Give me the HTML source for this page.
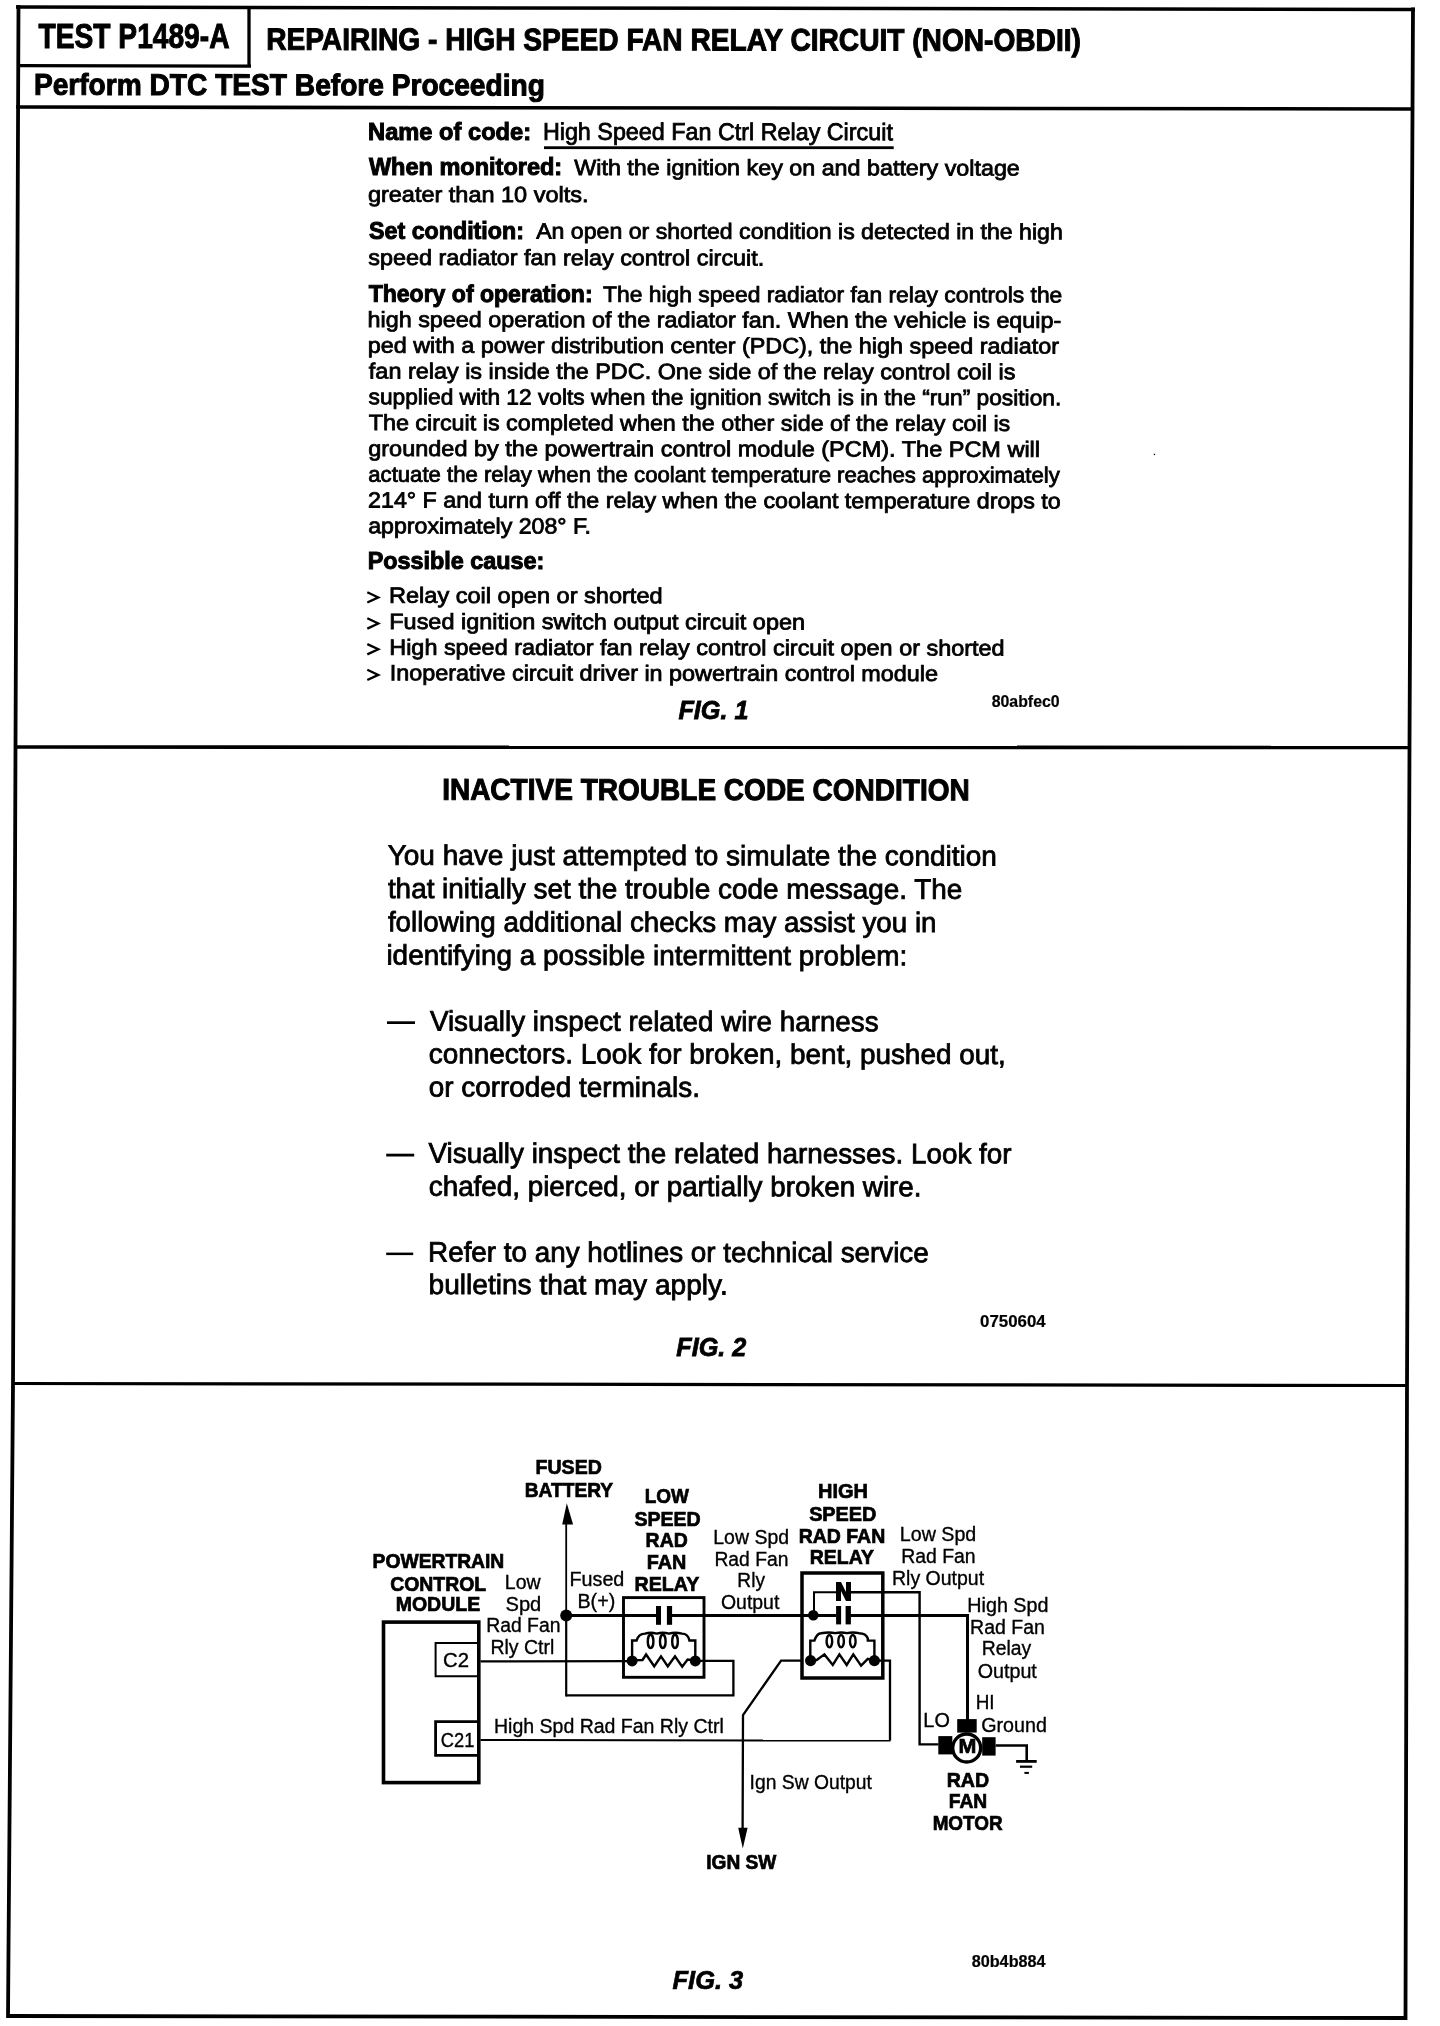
<!DOCTYPE html>
<html><head><meta charset="utf-8"><title>TEST P1489-A</title>
<style>
html,body{margin:0;padding:0;background:#fff;}
body{width:1440px;height:2026px;overflow:hidden;}
svg{display:block;will-change:transform;}
text{font-family:"Liberation Sans",sans-serif;fill:#000;stroke:#000;stroke-width:0.8px;}
.b{font-weight:bold;stroke-width:1px;}
.bi{font-weight:bold;font-style:italic;}
.i{font-style:italic;}
line,polyline,path,rect,circle,ellipse{stroke:#000;}
.f{fill:#000;stroke:none;}
</style></head>
<body><svg width="1440" height="2026" viewBox="0 0 1440 2026">
<rect x="0" y="0" width="1440" height="2026" style="fill:#fff;stroke:none"/>
<polyline points="18.5,5 15.5,747 13,1384 8.5,1950 8,2018" stroke-width="3.8" fill="none"/>
<polyline points="1413,7.5 1409.5,747.5 1407,1385.5 1405.5,2020" stroke-width="3.8" fill="none"/>
<line x1="16" y1="7" x2="1415" y2="9.5" stroke-width="3.5"/>
<line x1="17" y1="65.6" x2="251" y2="66.2" stroke-width="3.3"/>
<line x1="249" y1="7.5" x2="249" y2="66" stroke-width="3.3"/>
<line x1="16" y1="107" x2="1413" y2="109" stroke-width="3.6"/>
<line x1="15" y1="747" x2="1411" y2="747.5" stroke-width="3.6"/>
<line x1="12" y1="1383.5" x2="1408" y2="1385.5" stroke-width="3.2"/>
<line x1="7" y1="2016" x2="1407" y2="2018" stroke-width="3.8"/>
<rect x="1153.8" y="453.8" width="1.3" height="1.3" class="f"/>
<text class="b" x="38.58" y="47.60" font-size="35" textLength="190.91" lengthAdjust="spacingAndGlyphs">TEST P1489-A</text>
<text class="b" x="266.13" y="49.80" font-size="31" textLength="814.75" lengthAdjust="spacingAndGlyphs" transform="rotate(0.075 268.0 49.8)">REPAIRING - HIGH SPEED FAN RELAY CIRCUIT (NON-OBDII)</text>
<text class="b" x="33.92" y="94.80" font-size="30" textLength="510.96" lengthAdjust="spacingAndGlyphs" transform="rotate(0.075 35.8 94.8)">Perform DTC TEST Before Proceeding</text>
<text class="b" x="368.12" y="139.50" font-size="24" textLength="162.96" lengthAdjust="spacingAndGlyphs">Name of code:</text>
<text class="r" x="542.89" y="139.70" font-size="24" textLength="349.98" lengthAdjust="spacingAndGlyphs" transform="rotate(0.075 544.8 139.7)">High Speed Fan Ctrl Relay Circuit</text>
<rect x="544" y="146.3" width="349.7" height="2.8" class="f"/>
<text class="b" x="368.88" y="174.90" font-size="24" textLength="193.28" lengthAdjust="spacingAndGlyphs">When monitored:</text>
<text class="r" x="574.30" y="174.90" font-size="22" textLength="445.54" lengthAdjust="spacingAndGlyphs" transform="rotate(0.075 574.4 174.9)">With the ignition key on and battery voltage</text>
<text class="r" x="367.91" y="201.80" font-size="22" textLength="220.53" lengthAdjust="spacingAndGlyphs" transform="rotate(0.075 368.9 201.8)">greater than 10 volts.</text>
<text class="b" x="369.03" y="238.50" font-size="24" textLength="154.90" lengthAdjust="spacingAndGlyphs">Set condition:</text>
<text class="r" x="536.20" y="238.50" font-size="22" textLength="526.60" lengthAdjust="spacingAndGlyphs" transform="rotate(0.075 536.2 238.5)">An open or shorted condition is detected in the high</text>
<text class="r" x="368.35" y="264.90" font-size="22" textLength="395.88" lengthAdjust="spacingAndGlyphs" transform="rotate(0.075 369.0 264.9)">speed radiator fan relay control circuit.</text>
<text class="b" x="368.64" y="301.80" font-size="24" textLength="223.97" lengthAdjust="spacingAndGlyphs" transform="rotate(0.075 368.9 301.8)">Theory of operation:</text>
<text class="r" x="603.09" y="301.80" font-size="22" textLength="459.23" lengthAdjust="spacingAndGlyphs" transform="rotate(0.075 603.6 301.8)">The high speed radiator fan relay controls the</text>
<text class="r" x="367.60" y="326.90" font-size="22" textLength="693.63" lengthAdjust="spacingAndGlyphs" transform="rotate(0.075 369.2 326.9)">high speed operation of the radiator fan.  When the vehicle is equip-</text>
<text class="r" x="367.69" y="352.70" font-size="22" textLength="691.29" lengthAdjust="spacingAndGlyphs" transform="rotate(0.075 369.2 352.7)">ped with a power distribution center (PDC), the high speed radiator</text>
<text class="r" x="368.87" y="378.50" font-size="22" textLength="646.57" lengthAdjust="spacingAndGlyphs" transform="rotate(0.075 369.2 378.5)">fan relay is inside the PDC.  One side of the relay control coil is</text>
<text class="r" x="368.57" y="404.30" font-size="22" textLength="692.71" lengthAdjust="spacingAndGlyphs" transform="rotate(0.075 369.2 404.3)">supplied with 12 volts when the ignition switch is in the “run” position.</text>
<text class="r" x="368.68" y="430.10" font-size="22" textLength="641.57" lengthAdjust="spacingAndGlyphs" transform="rotate(0.075 369.2 430.1)">The circuit is completed when the other side of the relay coil is</text>
<text class="r" x="368.22" y="455.90" font-size="22" textLength="671.83" lengthAdjust="spacingAndGlyphs" transform="rotate(0.075 369.2 455.9)">grounded by the powertrain control module (PCM).  The PCM will</text>
<text class="r" x="368.26" y="481.70" font-size="22" textLength="691.58" lengthAdjust="spacingAndGlyphs" transform="rotate(0.075 369.2 481.7)">actuate the relay when the coolant temperature reaches approximately</text>
<text class="r" x="368.03" y="507.50" font-size="22" textLength="692.74" lengthAdjust="spacingAndGlyphs" transform="rotate(0.075 369.2 507.5)">214° F and turn off the relay when the coolant temperature drops to</text>
<text class="r" x="368.23" y="533.30" font-size="22" textLength="222.76" lengthAdjust="spacingAndGlyphs" transform="rotate(0.075 369.2 533.3)">approximately 208° F.</text>
<text class="b" x="367.64" y="569.00" font-size="24" textLength="176.71" lengthAdjust="spacingAndGlyphs">Possible cause:</text>
<text class="r" x="388.97" y="602.80" font-size="22" textLength="273.65" lengthAdjust="spacingAndGlyphs" transform="rotate(0.075 390.9 602.8)">Relay coil open or shorted</text>
<polyline points="367.3,592.1999999999999 378.3,597.4 367.3,602.5" stroke-width="2.3" fill="none"/>
<text class="r" x="389.28" y="628.90" font-size="22" textLength="415.75" lengthAdjust="spacingAndGlyphs" transform="rotate(0.075 391.2 628.9)">Fused ignition switch output circuit open</text>
<polyline points="367.3,618.3 378.3,623.5 367.3,628.6" stroke-width="2.3" fill="none"/>
<text class="r" x="389.28" y="654.70" font-size="22" textLength="615.23" lengthAdjust="spacingAndGlyphs" transform="rotate(0.075 391.2 654.7)">High speed radiator fan relay control circuit open or shorted</text>
<polyline points="367.3,644.1 378.3,649.3000000000001 367.3,654.4000000000001" stroke-width="2.3" fill="none"/>
<text class="r" x="389.84" y="680.30" font-size="22" textLength="548.20" lengthAdjust="spacingAndGlyphs" transform="rotate(0.075 392.0 680.3)">Inoperative circuit driver in powertrain control module</text>
<polyline points="367.3,669.6999999999999 378.3,674.9 367.3,680.0" stroke-width="2.3" fill="none"/>
<text class="bi" x="678.46" y="718.90" font-size="26" textLength="70.00" lengthAdjust="spacingAndGlyphs">FIG. 1</text>
<text class="b" x="991.70" y="707.20" font-size="16" textLength="67.95" lengthAdjust="spacingAndGlyphs" style="stroke-width:0.2px">80abfec0</text>
<text class="b" x="442.13" y="799.70" font-size="30" textLength="527.66" lengthAdjust="spacingAndGlyphs" transform="rotate(0.075 444.0 799.7)">INACTIVE TROUBLE CODE CONDITION</text>
<text class="r" x="387.69" y="864.70" font-size="28" textLength="609.22" lengthAdjust="spacingAndGlyphs" transform="rotate(0.075 388.3 864.7)">You have just attempted to simulate the condition</text>
<text class="r" x="387.88" y="898.00" font-size="28" textLength="574.46" lengthAdjust="spacingAndGlyphs" transform="rotate(0.075 388.3 898.0)">that initially set the trouble code message. The</text>
<text class="r" x="387.91" y="931.30" font-size="28" textLength="548.59" lengthAdjust="spacingAndGlyphs" transform="rotate(0.075 388.3 931.3)">following additional checks may assist you in</text>
<text class="r" x="386.43" y="964.60" font-size="28" textLength="520.91" lengthAdjust="spacingAndGlyphs" transform="rotate(0.075 388.3 964.6)">identifying a possible intermittent problem:</text>
<rect x="387" y="1021.3" width="28" height="2.7" class="f"/>
<text class="r" x="429.88" y="1030.60" font-size="28" textLength="448.72" lengthAdjust="spacingAndGlyphs" transform="rotate(0.075 430.0 1030.6)">Visually inspect related wire harness</text>
<text class="r" x="428.81" y="1063.20" font-size="28" textLength="576.89" lengthAdjust="spacingAndGlyphs" transform="rotate(0.075 430.0 1063.2)">connectors. Look for broken, bent, pushed out,</text>
<text class="r" x="428.83" y="1096.50" font-size="28" textLength="271.12" lengthAdjust="spacingAndGlyphs" transform="rotate(0.075 430.0 1096.5)">or corroded terminals.</text>
<rect x="386.2" y="1153.7" width="28" height="2.8" class="f"/>
<text class="r" x="428.48" y="1162.60" font-size="28" textLength="583.08" lengthAdjust="spacingAndGlyphs" transform="rotate(0.075 428.6 1162.6)">Visually inspect the related harnesses. Look for</text>
<text class="r" x="428.82" y="1195.70" font-size="28" textLength="492.72" lengthAdjust="spacingAndGlyphs" transform="rotate(0.075 430.0 1195.7)">chafed, pierced, or partially broken wire.</text>
<rect x="386.2" y="1252.6" width="27" height="2.5" class="f"/>
<text class="r" x="428.12" y="1261.50" font-size="28" textLength="500.62" lengthAdjust="spacingAndGlyphs" transform="rotate(0.075 430.4 1261.5)">Refer to any hotlines or technical service</text>
<text class="r" x="428.60" y="1294.00" font-size="28" textLength="299.24" lengthAdjust="spacingAndGlyphs" transform="rotate(0.075 430.4 1294.0)">bulletins that may apply.</text>
<text class="b" x="980.13" y="1327.20" font-size="16" textLength="65.56" lengthAdjust="spacingAndGlyphs" style="stroke-width:0.2px">0750604</text>
<text class="bi" x="676.26" y="1355.60" font-size="26" textLength="70.00" lengthAdjust="spacingAndGlyphs">FIG. 2</text>
<text class="b" x="535.59" y="1474.00" font-size="20" textLength="66.23" lengthAdjust="spacingAndGlyphs" style="stroke-width:0.7px">FUSED</text>
<text class="b" x="524.75" y="1496.60" font-size="20" textLength="88.35" lengthAdjust="spacingAndGlyphs" style="stroke-width:0.7px">BATTERY</text>
<text class="b" x="644.73" y="1502.80" font-size="20" textLength="44.19" lengthAdjust="spacingAndGlyphs" style="stroke-width:0.7px">LOW</text>
<text class="b" x="634.44" y="1525.60" font-size="20" textLength="66.28" lengthAdjust="spacingAndGlyphs" style="stroke-width:0.7px">SPEED</text>
<text class="b" x="645.60" y="1546.90" font-size="20" textLength="42.12" lengthAdjust="spacingAndGlyphs" style="stroke-width:0.7px">RAD</text>
<text class="b" x="646.81" y="1568.90" font-size="20" textLength="39.59" lengthAdjust="spacingAndGlyphs" style="stroke-width:0.7px">FAN</text>
<text class="b" x="634.62" y="1590.80" font-size="20" textLength="64.68" lengthAdjust="spacingAndGlyphs" style="stroke-width:0.7px">RELAY</text>
<text class="b" x="372.61" y="1568.30" font-size="20" textLength="131.69" lengthAdjust="spacingAndGlyphs" style="stroke-width:0.7px">POWERTRAIN</text>
<text class="b" x="390.20" y="1590.60" font-size="20" textLength="95.99" lengthAdjust="spacingAndGlyphs" style="stroke-width:0.7px">CONTROL</text>
<text class="b" x="395.70" y="1611.40" font-size="20" textLength="84.47" lengthAdjust="spacingAndGlyphs" style="stroke-width:0.7px">MODULE</text>
<text class="r" x="504.80" y="1589.40" font-size="20" textLength="35.75" lengthAdjust="spacingAndGlyphs" style="stroke-width:0.35px">Low</text>
<text class="r" x="505.49" y="1610.50" font-size="20" textLength="35.81" lengthAdjust="spacingAndGlyphs" style="stroke-width:0.35px">Spd</text>
<text class="r" x="486.21" y="1632.20" font-size="20" textLength="74.25" lengthAdjust="spacingAndGlyphs" style="stroke-width:0.35px">Rad Fan</text>
<text class="r" x="490.40" y="1654.40" font-size="20" textLength="63.90" lengthAdjust="spacingAndGlyphs" style="stroke-width:0.35px">Rly Ctrl</text>
<text class="r" x="569.48" y="1586.40" font-size="20" textLength="54.89" lengthAdjust="spacingAndGlyphs" style="stroke-width:0.35px">Fused</text>
<text class="r" x="577.49" y="1608.10" font-size="20" textLength="37.74" lengthAdjust="spacingAndGlyphs" style="stroke-width:0.35px">B(+)</text>
<text class="r" x="443.07" y="1667.20" font-size="20" textLength="25.95" lengthAdjust="spacingAndGlyphs" style="stroke-width:0.35px">C2</text>
<text class="r" x="440.87" y="1747.40" font-size="20" textLength="33.63" lengthAdjust="spacingAndGlyphs" style="stroke-width:0.35px">C21</text>
<text class="r" x="494.00" y="1733.00" font-size="20" textLength="229.80" lengthAdjust="spacingAndGlyphs" style="stroke-width:0.35px">High Spd Rad Fan Rly Ctrl</text>
<text class="b" x="818.06" y="1498.30" font-size="20" textLength="49.98" lengthAdjust="spacingAndGlyphs" style="stroke-width:0.7px">HIGH</text>
<text class="b" x="809.13" y="1520.60" font-size="20" textLength="67.31" lengthAdjust="spacingAndGlyphs" style="stroke-width:0.7px">SPEED</text>
<text class="b" x="798.71" y="1542.80" font-size="20" textLength="86.48" lengthAdjust="spacingAndGlyphs" style="stroke-width:0.7px">RAD FAN</text>
<text class="b" x="809.73" y="1564.40" font-size="20" textLength="64.17" lengthAdjust="spacingAndGlyphs" style="stroke-width:0.7px">RELAY</text>
<text class="r" x="713.30" y="1544.00" font-size="20" textLength="75.75" lengthAdjust="spacingAndGlyphs" style="stroke-width:0.35px">Low Spd</text>
<text class="r" x="714.42" y="1565.80" font-size="20" textLength="74.04" lengthAdjust="spacingAndGlyphs" style="stroke-width:0.35px">Rad Fan</text>
<text class="r" x="737.33" y="1587.00" font-size="20" textLength="27.61" lengthAdjust="spacingAndGlyphs" style="stroke-width:0.35px">Rly</text>
<text class="r" x="720.98" y="1608.90" font-size="20" textLength="58.36" lengthAdjust="spacingAndGlyphs" style="stroke-width:0.35px">Output</text>
<text class="r" x="899.79" y="1541.40" font-size="20" textLength="76.48" lengthAdjust="spacingAndGlyphs" style="stroke-width:0.35px">Low Spd</text>
<text class="r" x="901.21" y="1563.00" font-size="20" textLength="74.45" lengthAdjust="spacingAndGlyphs" style="stroke-width:0.35px">Rad Fan</text>
<text class="r" x="892.00" y="1585.00" font-size="20" textLength="92.04" lengthAdjust="spacingAndGlyphs" style="stroke-width:0.35px">Rly Output</text>
<text class="r" x="967.28" y="1611.70" font-size="20" textLength="81.19" lengthAdjust="spacingAndGlyphs" style="stroke-width:0.35px">High Spd</text>
<text class="r" x="970.10" y="1633.60" font-size="20" textLength="74.76" lengthAdjust="spacingAndGlyphs" style="stroke-width:0.35px">Rad Fan</text>
<text class="r" x="981.71" y="1655.30" font-size="20" textLength="49.42" lengthAdjust="spacingAndGlyphs" style="stroke-width:0.35px">Relay</text>
<text class="r" x="977.67" y="1678.00" font-size="20" textLength="59.18" lengthAdjust="spacingAndGlyphs" style="stroke-width:0.35px">Output</text>
<text class="r" x="975.65" y="1708.70" font-size="20" textLength="18.89" lengthAdjust="spacingAndGlyphs" style="stroke-width:0.35px">HI</text>
<text class="r" x="981.21" y="1732.20" font-size="20" textLength="65.66" lengthAdjust="spacingAndGlyphs" style="stroke-width:0.35px">Ground</text>
<text class="r" x="923.37" y="1726.70" font-size="20" textLength="26.48" lengthAdjust="spacingAndGlyphs" style="stroke-width:0.35px">LO</text>
<text class="r" x="749.62" y="1788.60" font-size="20" textLength="122.22" lengthAdjust="spacingAndGlyphs" style="stroke-width:0.35px">Ign Sw Output</text>
<text class="b" x="946.69" y="1786.70" font-size="20" textLength="42.43" lengthAdjust="spacingAndGlyphs" style="stroke-width:0.7px">RAD</text>
<text class="b" x="948.75" y="1808.00" font-size="20" textLength="38.52" lengthAdjust="spacingAndGlyphs" style="stroke-width:0.7px">FAN</text>
<text class="b" x="932.64" y="1829.70" font-size="20" textLength="69.94" lengthAdjust="spacingAndGlyphs" style="stroke-width:0.7px">MOTOR</text>
<text class="b" x="706.32" y="1869.40" font-size="20" textLength="70.10" lengthAdjust="spacingAndGlyphs" style="stroke-width:0.7px">IGN SW</text>
<text class="b" x="971.69" y="1967.40" font-size="16" textLength="73.90" lengthAdjust="spacingAndGlyphs" style="stroke-width:0.2px">80b4b884</text>
<text class="bi" x="672.55" y="1989.20" font-size="26" textLength="70.73" lengthAdjust="spacingAndGlyphs" style="stroke-width:0.7px">FIG. 3</text>
<rect x="383.5" y="1622.1" width="95.3" height="160.5" stroke-width="3.6" fill="none"/>
<polyline points="477,1643 435.6,1643 435.6,1676.3 477,1676.3" stroke-width="2" fill="none"/>
<path d="M477,1721.6 H435.6 V1755.4 H477" stroke-width="2.8" fill="none"/>
<line x1="480.5" y1="1661.4" x2="632" y2="1661.2" stroke-width="2.3"/>
<line x1="480.5" y1="1740" x2="890.5" y2="1740.6" stroke-width="2"/>
<path d="M566.8,1503.3 L562.2,1524.6 L573.1,1524.6 Z" class="f"/>
<line x1="566.2" y1="1524" x2="566.2" y2="1612" stroke-width="1.8"/>
<line x1="566.2" y1="1612" x2="566.2" y2="1696.5" stroke-width="2.2"/>
<circle cx="566.2" cy="1615.5" r="6" class="f"/>
<polyline points="695.3,1660.9 733.4,1660.9 733.4,1695.3 566.2,1695.3" stroke-width="2.3" fill="none"/>
<rect x="623.5" y="1597.6" width="80.5" height="79.7" stroke-width="2.9" fill="none"/>
<line x1="566.2" y1="1615.5" x2="656.5" y2="1615.5" stroke-width="3"/>
<line x1="671.5" y1="1615.5" x2="836.5" y2="1615.5" stroke-width="3"/>
<polyline points="850.5,1615.5 967.5,1615.5 967.5,1720" stroke-width="3" fill="none"/>
<rect x="656" y="1606" width="5" height="18.8" class="f"/>
<rect x="666.9" y="1606" width="5.2" height="18.8" class="f"/>
<path d="M632.1,1660.9 V1640.5 H636.6 Q638.5,1633.6 645,1633.6 Q650.6,1632 656.7,1633.6 Q662.8,1632 668.9,1633.6 Q675,1632 682,1633.6 Q688,1633.6 689.4,1640.5 H695.3 V1660.9" stroke-width="2.4" fill="none"/>
<ellipse cx="650.6" cy="1641.4" rx="2.8" ry="6.6" stroke-width="2.4" fill="none"/>
<ellipse cx="662.8" cy="1641.4" rx="2.8" ry="6.6" stroke-width="2.4" fill="none"/>
<ellipse cx="675" cy="1641.4" rx="2.8" ry="6.6" stroke-width="2.4" fill="none"/>
<polyline points="632.1,1660.4 642.5,1660 646.1,1654.5 654.2,1666.3 661,1656.3 667.8,1666.3 675,1656.3 682.2,1666.7 687.6,1659.5 695.3,1660.4" stroke-width="2.4" fill="none"/>
<circle cx="632.1" cy="1660.9" r="5.5" class="f"/>
<circle cx="695.3" cy="1660.9" r="5.5" class="f"/>
<rect x="802" y="1573" width="80.8" height="105" stroke-width="3.5" fill="none"/>
<rect x="836.1" y="1606" width="5" height="18.4" class="f"/>
<rect x="845.6" y="1606" width="5.3" height="18.4" class="f"/>
<path d="M836,1582 H841 L846,1592 V1582 H851 V1601 H846 L841,1591 V1601 H836 Z" class="f"/>
<polyline points="814,1615 814,1592.2 836,1592.2" stroke-width="2" fill="none"/>
<polyline points="851,1592.2 919.6,1592.2 919.6,1744.4 938.5,1744.4" stroke-width="2.4" fill="none"/>
<circle cx="813.3" cy="1615.2" r="5.3" class="f"/>
<path d="M810.3,1660.6 V1640.6 H814.4 Q817,1633.2 821,1633.2 Q829.4,1631.8 835.2,1633.2 Q841.1,1631.8 847,1633.2 Q852.8,1631.8 859,1633.2 Q866,1633.2 867.8,1638.5 V1640.6 H874.4 V1660.6" stroke-width="2.4" fill="none"/>
<ellipse cx="829.4" cy="1641.2" rx="2.8" ry="6.2" stroke-width="2.4" fill="none"/>
<ellipse cx="841.1" cy="1641.2" rx="2.8" ry="6.2" stroke-width="2.4" fill="none"/>
<ellipse cx="852.8" cy="1641.2" rx="2.8" ry="6.2" stroke-width="2.4" fill="none"/>
<polyline points="810.6,1660.6 816.7,1660 824.4,1654.4 832.8,1665 839.4,1654.4 846.7,1665 853.3,1654.4 861.1,1665.6 867.8,1658.9 874.4,1660.6" stroke-width="2.4" fill="none"/>
<circle cx="810.6" cy="1660.6" r="5.6" class="f"/>
<circle cx="874.4" cy="1660.6" r="5.6" class="f"/>
<polyline points="802,1660.6 781.1,1660.6 743,1715 742.6,1830" stroke-width="2.3" fill="none"/>
<path d="M738.2,1827.8 L747.6,1827.8 L742.8,1848.6 Z" class="f"/>
<polyline points="874.4,1660.6 890,1660.6 890,1740.6" stroke-width="2.3" fill="none"/>
<rect x="957.2" y="1719.1" width="19.5" height="13.5" class="f"/>
<rect x="938.3" y="1736.1" width="14" height="18.3" class="f"/>
<rect x="982.2" y="1737.2" width="13.4" height="18.4" class="f"/>
<circle cx="966.7" cy="1748" r="14" fill="#fff" stroke-width="3.4"/>
<text class="b" x="958.56" y="1752.80" font-size="20" textLength="17.87" lengthAdjust="spacingAndGlyphs" style="stroke-width:0.7px">M</text>
<polyline points="995.6,1745.5 1026.7,1745.5 1026.7,1761" stroke-width="2.6" fill="none"/>
<rect x="1016.1" y="1760" width="20.6" height="2.8" class="f"/>
<rect x="1020" y="1765.6" width="12.2" height="2.2" class="f"/>
<rect x="1024.4" y="1771.9" width="4.5" height="2" class="f"/>
</svg></body></html>
